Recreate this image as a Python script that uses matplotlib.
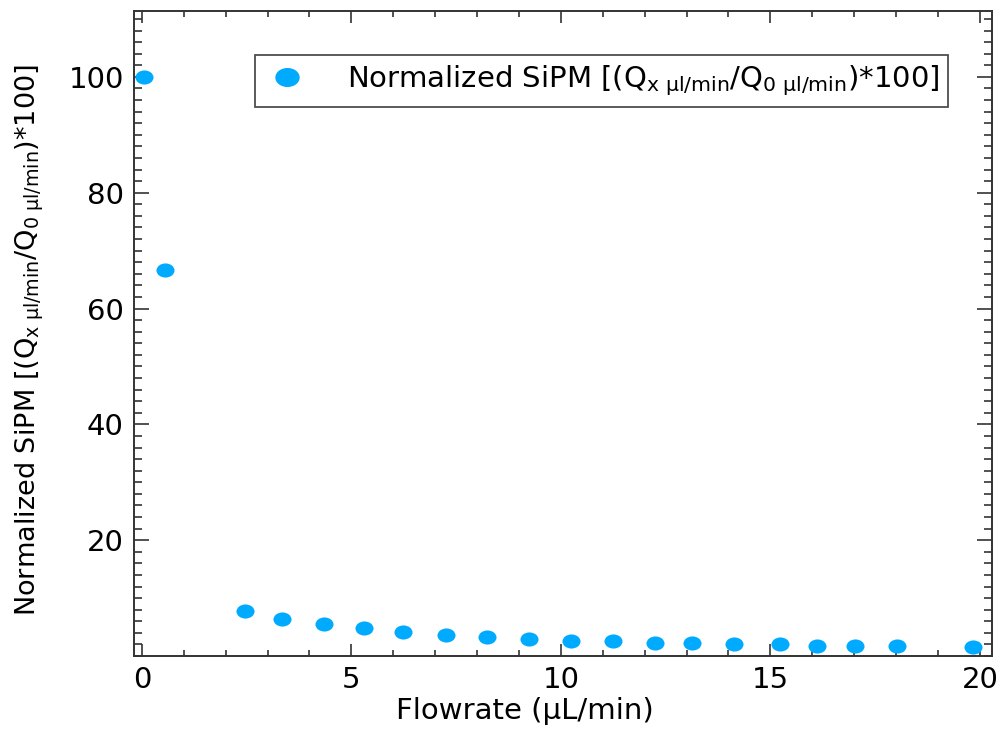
import matplotlib
matplotlib.use("Agg")
import matplotlib.pyplot as plt
from matplotlib.path import Path
from matplotlib.markers import MarkerStyle
from matplotlib.transforms import Affine2D
from matplotlib.ticker import MultipleLocator, FixedLocator

plt.rcParams['font.family'] = ['DejaVu Sans']
plt.rcParams['mathtext.fontset'] = 'custom'
plt.rcParams['mathtext.rm'] = 'DejaVu Sans'
plt.rcParams['mathtext.it'] = 'DejaVu Sans:italic'
plt.rcParams['mathtext.bf'] = 'DejaVu Sans:bold'

flowrate = [0.05, 0.56, 2.46, 3.35, 4.34, 5.29, 6.24, 7.25, 8.24, 9.24, 10.24,
            11.25, 12.24, 13.14, 14.13, 15.23, 16.12, 17.03, 18.03, 19.84]
normalized = [100.0, 66.7, 7.8, 6.4, 5.5, 4.8, 4.1, 3.6, 3.2, 2.9, 2.6,
              2.6, 2.2, 2.2, 2.1, 2.0, 1.8, 1.7, 1.7, 1.6]
y_ticks = [20, 40, 60, 80, 100]
x_ticks = [0, 5, 10, 15, 20]

label = r'Normalized SiPM [(Q$_{\mathregular{x\ µl/min}}$/Q$_{\mathregular{0\ µl/min}}$)*100]'
color = '#00AAFF'

ell = Path.unit_circle().transformed(Affine2D().scale(1.28, 1.0))
marker = MarkerStyle(ell)

fig = plt.figure(figsize=(10, 7.31), dpi=100)
ax = fig.add_axes([0.1335, 0.1026, 0.8585, 0.8817])
ax.plot(flowrate, normalized, linestyle='none', marker=marker, markersize=13,
        color=color, markeredgewidth=0, label=label)

ax.set_xlim(-0.2, 20.29)
ax.set_ylim(0, 111.3)
ax.xaxis.set_major_locator(FixedLocator(x_ticks))
ax.xaxis.set_minor_locator(MultipleLocator(1))
ax.yaxis.set_major_locator(FixedLocator(y_ticks))
ax.yaxis.set_minor_locator(MultipleLocator(2))

for s in ax.spines.values():
    s.set_linewidth(1.4)
    s.set_color('#333333')

ax.tick_params(axis='both', which='both', direction='in', top=True, right=True,
               color='#333333', width=1.2, labelsize=21)
ax.tick_params(axis='x', which='major', length=8.6, pad=7)
ax.tick_params(axis='x', which='minor', length=4.3)
ax.tick_params(axis='y', which='major', length=10.8, pad=7)
ax.tick_params(axis='y', which='minor', length=5.8)

ax.set_xlabel('Flowrate (µL/min)', fontsize=21)
ax.xaxis.set_label_coords(0.456, -0.064)
ax.set_ylabel(label, fontsize=19.5)
ax.yaxis.set_label_coords(-0.102, 0.49)

leg = ax.legend(loc='upper right', bbox_to_anchor=(0.949, 0.9325), borderaxespad=0,
                fontsize=21, frameon=True, fancybox=False, handletextpad=1.25,
                borderpad=0.3, handlelength=1.6, markerscale=1.35)
leg.get_frame().set_edgecolor('#222222')
leg.get_frame().set_linewidth(1.3)

fig.savefig('out.png', dpi=100)
